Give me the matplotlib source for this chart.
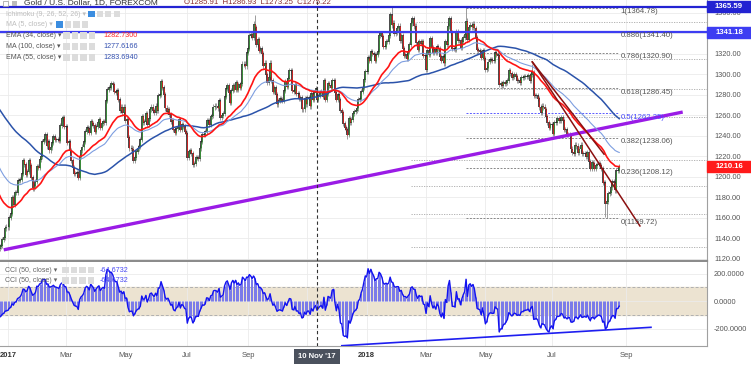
import numpy as np
import pandas as pd
import matplotlib
matplotlib.use('Agg')
import matplotlib.pyplot as plt
from matplotlib.patches import Rectangle

plt.rcParams['font.family'] = ['Liberation Sans', 'DejaVu Sans']

# daily closes, one list per month (warm-up months before the visible range)
aug16 = [1351, 1365, 1357, 1359, 1336, 1336, 1340, 1346, 1342, 1335, 1339, 1347, 1348, 1345, 1340, 1339, 1336, 1325, 1320, 1327, 1322, 1317, 1309]
sep16 = [1313, 1326, 1327, 1349, 1346, 1340, 1335, 1327, 1327, 1322, 1317, 1313, 1310, 1317, 1313, 1326, 1336, 1339, 1338, 1328, 1322, 1316]
oct16 = [1313, 1269, 1267, 1253, 1257, 1256, 1253, 1255, 1257, 1251, 1255, 1261, 1270, 1268, 1266, 1265, 1266, 1268, 1267, 1276, 1276]
nov16 = [1288, 1288, 1302, 1303, 1279, 1275, 1275, 1266, 1225, 1221, 1227, 1228, 1227, 1216, 1205, 1213, 1211, 1189, 1183, 1192, 1189, 1173]
dec16 = [1170, 1177, 1166, 1169, 1175, 1172, 1162, 1159, 1160, 1158, 1142, 1131, 1140, 1134, 1131, 1130, 1132, 1133, 1139, 1141, 1150, 1151]
jan17 = [1151, 1160, 1164, 1180, 1173, 1185, 1185, 1196, 1196, 1197, 1203, 1216, 1212, 1202, 1205, 1216, 1211, 1199, 1189, 1191, 1195, 1210]
feb17 = [1209, 1217, 1220, 1234, 1236, 1241, 1230, 1234, 1226, 1229, 1233, 1239, 1236, 1236, 1236, 1235, 1250, 1257, 1258, 1249]
mar17 = [1249, 1233, 1234, 1226, 1216, 1209, 1203, 1203, 1204, 1199, 1220, 1226, 1229, 1234, 1244, 1248, 1247, 1243, 1254, 1252, 1250, 1244, 1249]
apr17 = [1253, 1256, 1248, 1252, 1254, 1253, 1274, 1285, 1287, 1287, 1291, 1290, 1283, 1282, 1284, 1275, 1265, 1268, 1263, 1268]
may17 = [1255, 1256, 1238, 1228, 1228, 1227, 1216, 1219, 1225, 1228, 1230, 1236, 1259, 1253, 1254, 1262, 1251, 1257, 1266, 1268, 1265, 1263, 1269]
jun17 = [1265, 1279, 1280, 1293, 1287, 1280, 1267, 1264, 1266, 1261, 1254, 1255, 1246, 1243, 1247, 1249, 1256, 1246, 1251, 1249, 1244, 1242]
jul17 = [1219, 1225, 1226, 1223, 1212, 1213, 1219, 1219, 1218, 1228, 1234, 1241, 1241, 1244, 1255, 1255, 1251, 1259, 1260, 1268, 1269]
aug17 = [1269, 1267, 1274, 1258, 1260, 1262, 1278, 1286, 1289, 1282, 1272, 1284, 1289, 1285, 1292, 1285, 1290, 1287, 1291, 1310, 1310, 1308, 1321]
sep17 = [1325, 1338, 1339, 1336, 1349, 1346, 1329, 1334, 1323, 1325, 1320, 1308, 1311, 1300, 1292, 1297, 1311, 1294, 1283, 1287, 1280]
oct17 = [1271, 1274, 1276, 1275, 1274, 1284, 1293, 1288, 1296, 1304, 1304, 1284, 1283, 1290, 1281, 1281, 1276, 1277, 1266, 1266, 1276, 1271]
nov17 = [1277, 1277, 1269, 1281, 1275, 1282, 1285.91, 1275.22, 1279, 1282, 1283, 1278, 1294, 1275, 1281, 1291, 1289, 1287, 1294, 1294, 1282, 1275]
dec17 = [1280, 1275, 1265, 1263, 1252, 1248, 1246, 1241, 1257, 1253, 1256, 1262, 1264, 1265, 1267, 1275, 1276, 1283, 1287, 1295, 1303]
jan18 = [1303, 1316, 1313, 1322, 1320, 1319, 1313, 1319, 1322, 1338, 1340, 1337, 1327, 1327, 1332, 1332, 1338, 1358, 1348, 1350, 1340, 1341, 1345]
feb18 = [1347, 1333, 1338, 1325, 1318, 1319, 1315, 1322, 1329, 1350, 1354, 1347, 1347, 1331, 1324, 1332, 1330, 1332, 1318, 1318]
mar18 = [1305, 1323, 1319, 1335, 1326, 1321, 1324, 1321, 1327, 1325, 1317, 1313, 1317, 1311, 1332, 1329, 1347, 1354, 1341, 1325, 1325, 1324]
apr18 = [1342, 1333, 1333, 1326, 1332, 1336, 1339, 1352, 1334, 1346, 1348, 1346, 1349, 1345, 1336, 1324, 1323, 1322, 1316, 1323, 1315]
may18 = [1305, 1306, 1312, 1314, 1314, 1313, 1313, 1321, 1319, 1318, 1290, 1291, 1289, 1292, 1291, 1292, 1294, 1304, 1301, 1297, 1298, 1300, 1298]
jun18 = [1294, 1294, 1292, 1297, 1297, 1298, 1298, 1298, 1299, 1294, 1300, 1302, 1279, 1279, 1279, 1276, 1268, 1263, 1269, 1268, 1266, 1259, 1253, 1248, 1251]
jul18 = [1251, 1242, 1253, 1253, 1257, 1255, 1255, 1258, 1255, 1246, 1246, 1241, 1241, 1240, 1227, 1224, 1223, 1231, 1230, 1224, 1227, 1231, 1223, 1223, 1223, 1220, 1224]
aug18 = [1215, 1208, 1214, 1213, 1208, 1211, 1212, 1213, 1211, 1208, 1194, 1194, 1174, 1176, 1184, 1185, 1190, 1195, 1194, 1187, 1206, 1206, 1210.16]

extra_highs = {'2017-09-08': 1357.6, '2018-01-25': 1366.0, '2018-04-11': 1365.2, '2018-06-14': 1309.5}
extra_lows = {'2017-12-12': 1236.5, '2018-08-16': 1160.0, '2018-08-15': 1161.0}

# fibonacci retracement (labelled) and extra dotted levels
fib_levels = [1, 0.886, 0.786, 0.618, 0.5, 0.382, 0.236, 0]
fib_prices = [1364.78, 1341.40, 1320.90, 1286.45, 1262.25, 1238.06, 1208.12, 1159.72]
fib_from, fib_to = '2018-04-11', '2018-08-26'
extra_levels = [1350.9, 1314.5, 1285.6, 1258.0, 1216.3, 1191.2, 1163.6, 1131.4]
extra_from = '2018-02-14'

hlines = [(1365.59, '#2323d2'), (1341.18, '#3d3df2')]
last_price = 1210.16
purple_line = [('2016-12-28', 1128.7), ('2018-10-19', 1263.1)]
red_lines = [[('2018-06-14', 1312.0), ('2018-09-13', 1152.0)],
             [('2018-06-14', 1312.0), ('2018-08-14', 1222.0)]]
cci_line = [('2017-12-06', -325.0), ('2018-09-23', -191.0)]
marker_day = '2017-11-10'

closes = (aug16 + sep16 + oct16 + nov16 + dec16 + jan17 + feb17 + mar17 + apr17 + may17 + jun17
          + jul17 + aug17 + sep17 + oct17 + nov17 + dec17 + jan18 + feb18 + mar18 + apr18 + may18
          + jun18 + jul18 + aug18)

days = pd.date_range('2016-08-01', '2018-12-31', freq='D')
keep = np.where(days < pd.Timestamp('2018-06-01'), days.weekday < 5, days.weekday != 5)
dates = days[keep]

def pos(d):
    return dates.get_loc(pd.Timestamp(d))

s = pd.Series(closes, dtype=float)
n = len(s)
x = np.arange(n)
o = s.shift(1).fillna(s.iloc[0]).values
c = s.values
hi = np.maximum(o, c) + 2.5
lo = np.minimum(o, c) - 2.5
for d, v in extra_highs.items():
    hi[pos(d)] = v
for d, v in extra_lows.items():
    lo[pos(d)] = v

ema34 = s.ewm(span=34, adjust=False).mean()
ema55 = s.ewm(span=55, adjust=False).mean()
ma100 = s.rolling(100, min_periods=60).mean()
sma50 = s.rolling(50).mean()
mdev = s.rolling(50).apply(lambda w: np.abs(w - w.mean()).mean(), raw=True)
cci = (s - sma50) / (0.015 * mdev)

W, H = 751, 368
fig = plt.figure(figsize=(W / 100, H / 100), dpi=100)
ax = fig.add_axes([0, 1 - 261 / H, 707 / W, 261 / H])
cax = fig.add_axes([0, 1 - 346 / H, 707 / W, 84 / H])

x0 = pos('2017-01-02')
for a in (ax, cax):
    a.set_xlim(x0 - 5.7, x0 + 506.6)
ax.set_ylim(1117.8, 1372.4)
cax.set_ylim(-327, 284)

# month ticks
months = [d for d in pd.date_range('2017-01-01', '2018-09-01', freq='2MS')]
tick_pos = [int(np.searchsorted(dates, d)) for d in months]
tick_lab = [str(d.year) if d.month == 1 else d.strftime('%b') for d in months]
hidden_tick = pd.Timestamp('2017-11-01')   # covered by the cursor date box

for a in (ax, cax):
    a.set_xticks(tick_pos)
    a.grid(color='#ebebeb', lw=0.6)
    a.set_axisbelow(True)
    a.yaxis.tick_right()
    a.tick_params(length=0, labelsize=5.3, labelcolor='#555555')
    for sp in ('left', 'top'):
        a.spines[sp].set_visible(False)
    a.spines['right'].set_color('#a0a0a0')
    a.spines['right'].set_linewidth(0.8)
ax.tick_params(axis='x', labelbottom=False)
ax.tick_params(axis='y', pad=5)
ax.spines['bottom'].set_color('#8c8c8c')
ax.spines['bottom'].set_linewidth(1.6)
cax.spines['bottom'].set_color('#a0a0a0')
cax.spines['bottom'].set_linewidth(0.8)
cax.spines['top'].set_visible(False)

price_ticks = np.arange(1120, 1361, 20)
ax.set_yticks(price_ticks)
ax.set_yticklabels(['' if v == 1340 else f'{v:.2f}' for v in price_ticks])
cax.set_yticks([200, 0, -200])
cax.set_yticklabels(['200.0000', '0.0000', '-200.0000'])
cax.tick_params(axis='y', pad=5)
cax.set_xticklabels(['' if d == hidden_tick else t for d, t in zip(months, tick_lab)])
cax.tick_params(axis='x', pad=4.5, labelsize=5.5)
for t in cax.get_xticklabels():
    if t.get_text().isdigit():
        t.set_fontweight('bold')
        t.set_color('#333333')

# extra dotted levels and fib retracement
xe = pos(extra_from)
for lv in extra_levels:
    ax.plot([xe, x0 + 506.6], [lv, lv], color='#a8a8a8', lw=0.6, ls=(0, (1.5, 1.5)), zorder=1)
xa, xb = pos(fib_from), pos(fib_to)
for lvl, p in zip(fib_levels, fib_prices):
    col = '#5a5aff' if lvl == 0.5 else '#888888'
    ax.plot([xa, xb], [p, p], color=col, lw=0.7, ls=(0, (2, 1.5)), zorder=1)
    ax.text(xb + 2, p - 0.6, f'{lvl:g}({p:.2f})', fontsize=5.6, color='#4a4aff' if lvl == 0.5 else '#555555',
            va='top', ha='left', zorder=6)

# trend lines
(d1, p1), (d2, p2) = purple_line
ax.plot([pos(d1), pos(d2)], [p1, p2], color='#9a1be6', lw=2.4, zorder=3, solid_capstyle='butt')
for (d1, p1), (d2, p2) in red_lines:
    ax.plot([pos(d1), pos(d2)], [p1, p2], color='#8b1010', lw=1.1, zorder=4)
for p, col in hlines:
    ax.axhline(p, color=col, lw=1.6, zorder=4)

# candles
up = c >= o
ax.vlines(x, lo, hi, color='#8c8c8c', lw=0.6, zorder=2)
ax.vlines(x, np.minimum(o, c) - 0.4, np.maximum(o, c) + 0.4, color='#2a2a2a', lw=1.2, zorder=2)
ax.vlines(x[up], o[up], c[up], color='#3a9a3a', lw=0.6, zorder=2)
ax.vlines(x[~up], c[~up], o[~up], color='#e02020', lw=0.6, zorder=2)

ax.plot(x, ma100, color='#2b53aa', lw=1.1, zorder=3)
ax.plot(x, ema55, color='#7d9ee0', lw=0.8, zorder=3)
ax.plot(x, ema34, color='#ff1414', lw=1.2, zorder=3)

# CCI panel
cax.axhspan(-100, 100, color='#ece3d1', zorder=0)
for lv in (100, -100):
    cax.axhline(lv, color='#b0b0b0', lw=0.7, ls=(0, (3, 2)), zorder=1)
cax.vlines(x, 0, cci, color='#7878ea', lw=0.7, zorder=2)
cax.plot(x, cci, color='#1212f0', lw=1.0, zorder=3)
(d1, v1), (d2, v2) = cci_line
cax.plot([pos(d1), pos(d2)], [v1, v2], color='#1e1ef0', lw=1.2, zorder=4)

xm = pos(marker_day)
for a in (ax, cax):
    a.axvline(xm, color='#333333', lw=0.8, ls=(0, (3, 2.5)), zorder=5)

def fx(px):
    return px / W

def fy(py):
    return 1 - py / H

# price boxes on the right axis
fig.canvas.draw()
def price_box(price, text, color):
    yd = ax.transData.transform((0, price))[1]
    fig.add_artist(Rectangle((fx(707), (yd - 5.5) / H), 44 / W, 11 / H, transform=fig.transFigure,
                             color=color, zorder=10))
    fig.text(fx(729), yd / H, text, color='white', fontsize=5.6, weight='bold',
             ha='center', va='center', zorder=11)

for p, col in hlines:
    price_box(p, f'{p:.2f}', col)
price_box(last_price, f'{last_price:.2f}', '#ff1a1a')

# header and legends
fig.add_artist(Rectangle((fx(3), fy(6)), 5 / W, 5 / H, transform=fig.transFigure, fc='white', ec='#999999', lw=0.5))
fig.add_artist(Rectangle((fx(12), fy(6)), 5 / W, 5 / H, transform=fig.transFigure, fc='#bbbbbb', ec='none'))
fig.text(fx(24), fy(2.5), 'Gold / U.S. Dollar, 1D, FOREXCOM', fontsize=6, color='#333333', va='center')
fig.text(fx(184), fy(2.5), 'O1285.91  H1286.93  L1273.25  C1275.22', fontsize=5.6, color='#8b2c2c', va='center')

def icons(px, py, first_blue, count=4):
    for i in range(count):
        col = '#3b8de0' if (first_blue and i == 0) else '#dcdcdc'
        fig.add_artist(Rectangle((fx(px + i * 8.5), fy(py + 3)), 6.5 / W, 6.5 / H,
                                 transform=fig.transFigure, fc=col, ec='none'))

legend_rows = [
    (14, 'Ichimoku (9, 26, 52, 26)', '#bdbdbd', 88, True, '', None),
    (24.5, 'MA (5, close)', '#bdbdbd', 56, True, '', None),
    (35.5, 'EMA (34, close)', '#555555', 63, False, '1282.7300', '#ff2a2a'),
    (46.5, 'MA (100, close)', '#555555', 63, False, '1277.6166', '#3350b0'),
    (57.5, 'EMA (55, close)', '#555555', 63, False, '1283.6940', '#3350b0'),
]
for py, name, col, ix, blue, val, vcol in legend_rows:
    fig.text(fx(6), fy(py), name + ' \u25be', fontsize=5, color=col, va='center')
    icons(ix, py, blue)
    if val:
        fig.text(fx(103), fy(py), val, fontsize=5.2, color=vcol, va='center')
for py in (270, 280.5):
    fig.text(fx(5), fy(py), 'CCI (50, close) \u25be', fontsize=5, color='#666666', va='center')
    icons(62, py, False)
    fig.text(fx(100), fy(py), '-64.6732', fontsize=5.2, color='#4a4af5', va='center')

fig.text(fx(317), fy(356.5), "10 Nov '17", ha='center', va='center', color='white', fontsize=5.6,
         weight='bold', zorder=12, bbox=dict(boxstyle='square,pad=0.5', fc='#4b515d', ec='none'))

fig.savefig('out.png', dpi=100)
